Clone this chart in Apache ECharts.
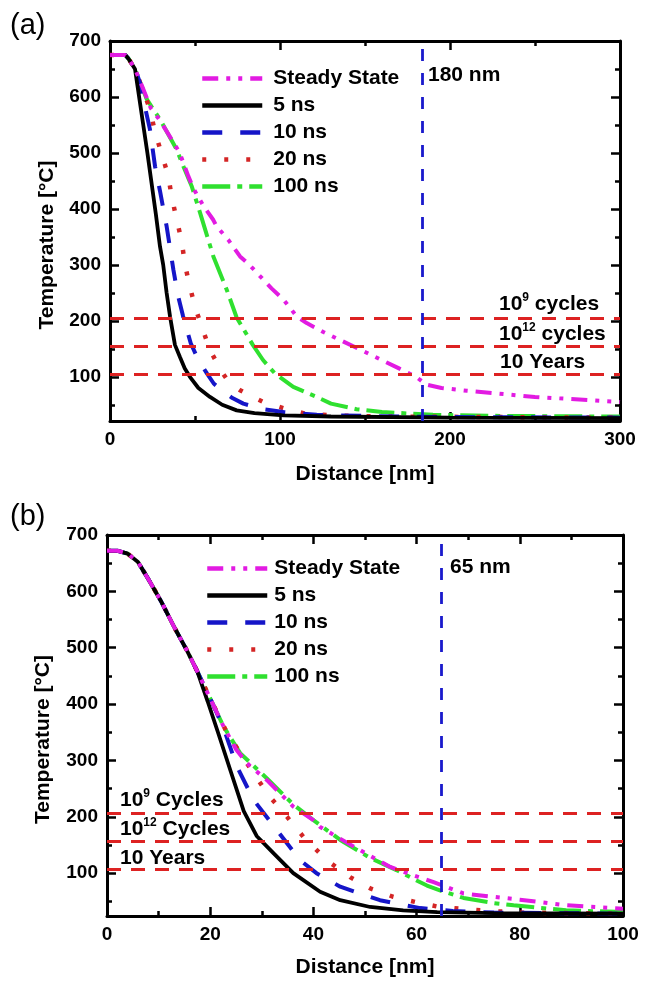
<!DOCTYPE html>
<html><head><meta charset="utf-8">
<script src="https://cdn.jsdelivr.net/npm/echarts@6/dist/echarts.min.js"></script>
<style>html,body{margin:0;padding:0;background:#fff}#c{width:647px;height:981px}</style>
</head><body><div id="c"></div>
<script>
// ---------- data ----------
const legendNames = ['Steady State', '5 ns', '10 ns', '20 ns', '100 ns'];

// Panel (a): distance [nm], temperature [°C]
const aSteady = [[0,675],[9,675],[11,668],[14.7,650],[19.6,614],[24,580],[29.4,558],[36.3,524],[41,500],[46,459],[49,437],[55,405],[60.6,381],[62.7,369],[70,343],[76.5,315],[82,300],[88.2,280],[95,258],[102,238],[109.8,208],[115.7,196],[125.5,180],[151,143],[170,115],[180,100],[186,86],[195,80],[210,75],[250,64],[300,55]];
const a5ns = [[0,675],[9,675],[11,668],[14.7,650],[22,500],[27,390],[29.4,333],[31.3,300],[33.3,250],[35.3,208],[38.2,157],[41.2,135],[44,115],[47,100],[52,80],[58.8,64],[66,50],[74.5,40],[85,35],[102,31],[130,29],[200,27],[300,26]];
const a10ns = [[0,675],[9,675],[11,668],[14.7,650],[17.6,626],[20,590],[23.5,542],[26.5,476],[29.4,432],[33.3,369],[37.3,291],[40,245],[43,208],[47.5,160],[52,130],[57,106],[61,88],[66,75],[72,62],[78.4,52],[90,42],[102,37],[121.6,32],[150,30],[200,28],[300,27]];
const a20ns = [[0,675],[9,675],[11,668],[14.7,650],[19,615],[23.5,578],[26.5,537],[30.4,498],[34.3,459],[36.2,423],[39.2,381],[42.2,342],[44.1,300],[47,261],[50,225],[53.9,190],[58.8,148],[65.7,109],[70,90],[76.5,76],[84,64],[90.2,55],[102,44],[113.7,35],[130,31],[160,29],[300,27]];
const a100ns = [[0,675],[9,675],[11,668],[14.7,650],[21.6,596],[29.4,560],[39.2,506],[44,470],[48,441],[53,393],[60.8,315],[68.6,256],[74.5,206],[84,157],[90,130],[97,106],[107.8,82],[121.6,64],[130,52],[145,42],[160,37],[190,32],[230,30],[300,29]];
const aLimits = [205, 155, 105];
const aCut = 183.5;

// Panel (b)
const bSteady = [[0,672],[2,672],[4,667],[6,652],[8,622],[10.5,582],[13,537],[15.5,495],[17.5,458],[20,410],[22.6,360],[25,320],[27.1,295],[31,265],[36.1,218],[40,194],[41.3,182],[43.9,168],[49,141],[54.9,111],[59.4,96],[63.3,84],[69.1,64],[74.9,58],[80,53],[89,43],[98,38],[100,37]];
const b5ns = [[0,672],[2,672],[4,667],[6,652],[8,622],[10.5,582],[13,537],[15.5,495],[17.5,458],[19.5,405],[21.5,350],[24,280],[26.5,210],[29,166],[32.3,135],[36.1,100],[41.3,67],[45.2,52],[51,40],[57.4,34],[64,31],[75,29],[100,28]];
const b10ns = [[0,672],[2,672],[4,667],[6,652],[8,622],[10.5,582],[13,537],[15.5,495],[17.5,458],[20,410],[22.6,357],[25.2,289],[28.4,230],[33.3,172],[37.4,123],[40.6,100],[45.2,76],[52.9,52],[60.7,38],[67,33],[75,30],[100,28]];
const b20ns = [[0,672],[2,672],[4,667],[6,652],[8,622],[10.5,582],[13,537],[15.5,495],[17.5,458],[20,410],[23.2,350],[28.4,277],[31.6,235],[34.9,200],[38.1,164],[42.6,123],[47.1,93],[51,73],[55.5,58],[59.7,49],[63.9,41],[68.4,37],[72.3,34],[80,30],[100,28]];
const b100ns = [[0,672],[2,672],[4,667],[6,652],[8,622],[10.5,582],[13,537],[15.5,495],[17.5,458],[20,410],[22.6,360],[25.8,313],[31,268],[36.1,222],[40,194],[45.2,159],[51,127],[56.2,105],[60,87],[62,78],[65,68],[69.1,56],[74.9,47],[78.8,43],[89,34],[100,31]];
const bLimits = [207, 156, 107];
const bCut = 64.7;

// ticks
const aXMajor = [0,100,200,300], aXMinor = [50,150,250];
const bXMajor = [0,20,40,60,80,100], bXMinor = [10,30,50,70,90];
const yMajor = [100,200,300,400,500,600,700], yMinor = [50,150,250,350,450,550,650];

// ---------- styling ----------
const F = "'Liberation Sans', Arial, sans-serif";
const COL = {steady:'#e21be2', k:'#000000', blue:'#1515c8', red:'#d42525', green:'#2fe02f'};
const DASH = {steady:[16,8,4,8,4,8], blue:[20,18], red:[4,18], green:[28,7,5,7]};

function xAxes(g, min, max, major, minor, gap) {
  const base = {gridIndex:g, type:'value', min:min, max:max, splitLine:{show:false}, axisPointer:{show:false}};
  const tickStyle = {color:'#000', width:2.5};
  return [
    Object.assign({}, base, {position:'bottom', name:'Distance [nm]', nameLocation:'middle', nameGap:gap,
      nameTextStyle:{fontFamily:F, fontWeight:'bold', fontSize:21, color:'#000'},
      axisLine:{show:true, onZero:false, lineStyle:{color:'#000', width:3}},
      axisTick:{show:true, inside:true, length:9, customValues:major, lineStyle:tickStyle},
      axisLabel:{show:true, customValues:major, margin:9, fontFamily:F, fontWeight:'bold', fontSize:19, color:'#000'}}),
    Object.assign({}, base, {position:'bottom', axisLine:{show:false, onZero:false},
      axisTick:{show:true, inside:true, length:5, customValues:minor, lineStyle:tickStyle}, axisLabel:{show:false}}),
    Object.assign({}, base, {position:'top', axisLine:{show:true, onZero:false, lineStyle:{color:'#000', width:3}},
      axisTick:{show:true, inside:true, length:9, customValues:major, lineStyle:tickStyle}, axisLabel:{show:false}}),
    Object.assign({}, base, {position:'top', axisLine:{show:false, onZero:false},
      axisTick:{show:true, inside:true, length:5, customValues:minor, lineStyle:tickStyle}, axisLabel:{show:false}})
  ];
}
function yAxes(g, min, max, gap) {
  const base = {gridIndex:g, type:'value', min:min, max:max, splitLine:{show:false}, axisPointer:{show:false}};
  const tickStyle = {color:'#000', width:2.5};
  return [
    Object.assign({}, base, {position:'left', name:'Temperature [°C]', nameLocation:'middle', nameGap:gap, nameRotate:90,
      nameTextStyle:{fontFamily:F, fontWeight:'bold', fontSize:21, color:'#000', padding:[0,28,0,0]},
      axisLine:{show:true, onZero:false, lineStyle:{color:'#000', width:3}},
      axisTick:{show:true, inside:true, length:9, customValues:yMajor, lineStyle:tickStyle},
      axisLabel:{show:true, customValues:yMajor, margin:9, fontFamily:F, fontWeight:'bold', fontSize:19, color:'#000'}}),
    Object.assign({}, base, {position:'left', axisLine:{show:false, onZero:false},
      axisTick:{show:true, inside:true, length:5, customValues:yMinor, lineStyle:tickStyle}, axisLabel:{show:false}}),
    Object.assign({}, base, {position:'right', axisLine:{show:true, onZero:false, lineStyle:{color:'#000', width:3}},
      axisTick:{show:true, inside:true, length:9, customValues:yMajor, lineStyle:tickStyle}, axisLabel:{show:false}}),
    Object.assign({}, base, {position:'right', axisLine:{show:false, onZero:false},
      axisTick:{show:true, inside:true, length:5, customValues:yMinor, lineStyle:tickStyle}, axisLabel:{show:false}})
  ];
}

function curve(name, data, ax, color, dash, width) {
  return {type:'line', name:name, data:data, xAxisIndex:ax, yAxisIndex:ax, symbol:'none', showSymbol:false,
    color:color, lineStyle:{color:color, width:width, type:dash}, animation:false, silent:true, z:3};
}
function guides(ax, limits, cut) {
  return {type:'line', name:'guides', data:[], xAxisIndex:ax, yAxisIndex:ax, animation:false, silent:true, z:2,
    markLine:{silent:true, symbol:['none','none'], animation:false, label:{show:false},
      lineStyle:{color:'#dd2222', type:[14,10], width:2.8},
      data: limits.map(v => ({yAxis:v})).concat([{xAxis:cut, lineStyle:{color:'#1a1acc', type:[12,12], width:2.8}}])}};
}
function panelSeries(ax, s, k5, k10, k20, k100, limits, cut) {
  return [
    guides(ax, limits, cut),
    curve('100 ns', k100, ax, COL.green, DASH.green, 4),
    curve('20 ns', k20, ax, COL.red, DASH.red, 4.5),
    curve('10 ns', k10, ax, COL.blue, DASH.blue, 4),
    curve('5 ns', k5, ax, COL.k, 'solid', 3.8),
    curve('Steady State', s, ax, COL.steady, DASH.steady, 4)
  ];
}
function legend(left, top, padLeft) {
  return {data:legendNames, orient:'vertical', left:left, top:top, padding:0, itemWidth:60, itemHeight:14, itemGap:6,
    selectedMode:false, itemStyle:{color:'transparent', borderWidth:0, opacity:0},
    lineStyle:{width:4.5},
    textStyle:{fontFamily:F, fontWeight:'bold', fontSize:21, lineHeight:20, color:'#000', padding:[0,0,0,padLeft]}};
}
const rich = {
  n:{fontFamily:F, fontWeight:'bold', fontSize:21, lineHeight:24, fill:'#000'},
  s:{fontFamily:F, fontWeight:'bold', fontSize:12, lineHeight:12, verticalAlign:'top', fill:'#000'}
};
function txt(x, y, text, extra) {
  return {type:'text', x:x, y:y, silent:true, style:Object.assign({text:text, fill:'#000', verticalAlign:'middle',
    font:"bold 21px 'Liberation Sans', Arial, sans-serif", rich:rich}, extra || {})};
}

const option = {
  backgroundColor:'#fff',
  animation:false,
  grid:[
    {left:110, top:41, width:510, height:380},
    {left:107, top:535, width:516, height:381}
  ],
  xAxis: xAxes(0, 0, 300, aXMajor, aXMinor, 43).concat(xAxes(1, 0, 100, bXMajor, bXMinor, 41)),
  yAxis: yAxes(0, 21, 700, 52).concat(yAxes(1, 24, 700, 53)),
  legend:[legend(200, 68, 6), legend(205, 558, 2)],
  series: panelSeries(0, aSteady, a5ns, a10ns, a20ns, a100ns, aLimits, aCut)
    .concat(panelSeries(4, bSteady, b5ns, b10ns, b20ns, b100ns, bLimits, bCut)),
  graphic:[
    txt(10, 26, '(a)', {font:"29px 'Liberation Sans', Arial, sans-serif"}),
    txt(10, 517, '(b)', {font:"29px 'Liberation Sans', Arial, sans-serif"}),
    txt(428, 75, '180 nm'),
    txt(450, 567, '65 nm'),
    txt(499, 304, '{n|10}{s|9}{n| cycles}'),
    txt(499, 334, '{n|10}{s|12}{n| cycles}'),
    txt(500, 362, '{n|10 Years}'),
    txt(120, 800, '{n|10}{s|9}{n| Cycles}'),
    txt(120, 829, '{n|10}{s|12}{n| Cycles}'),
    txt(120, 858, '{n|10 Years}')
  ]
};
const chart = echarts.init(document.getElementById('c'), null, {renderer:'canvas'});
chart.setOption(option);
</script></body></html>
